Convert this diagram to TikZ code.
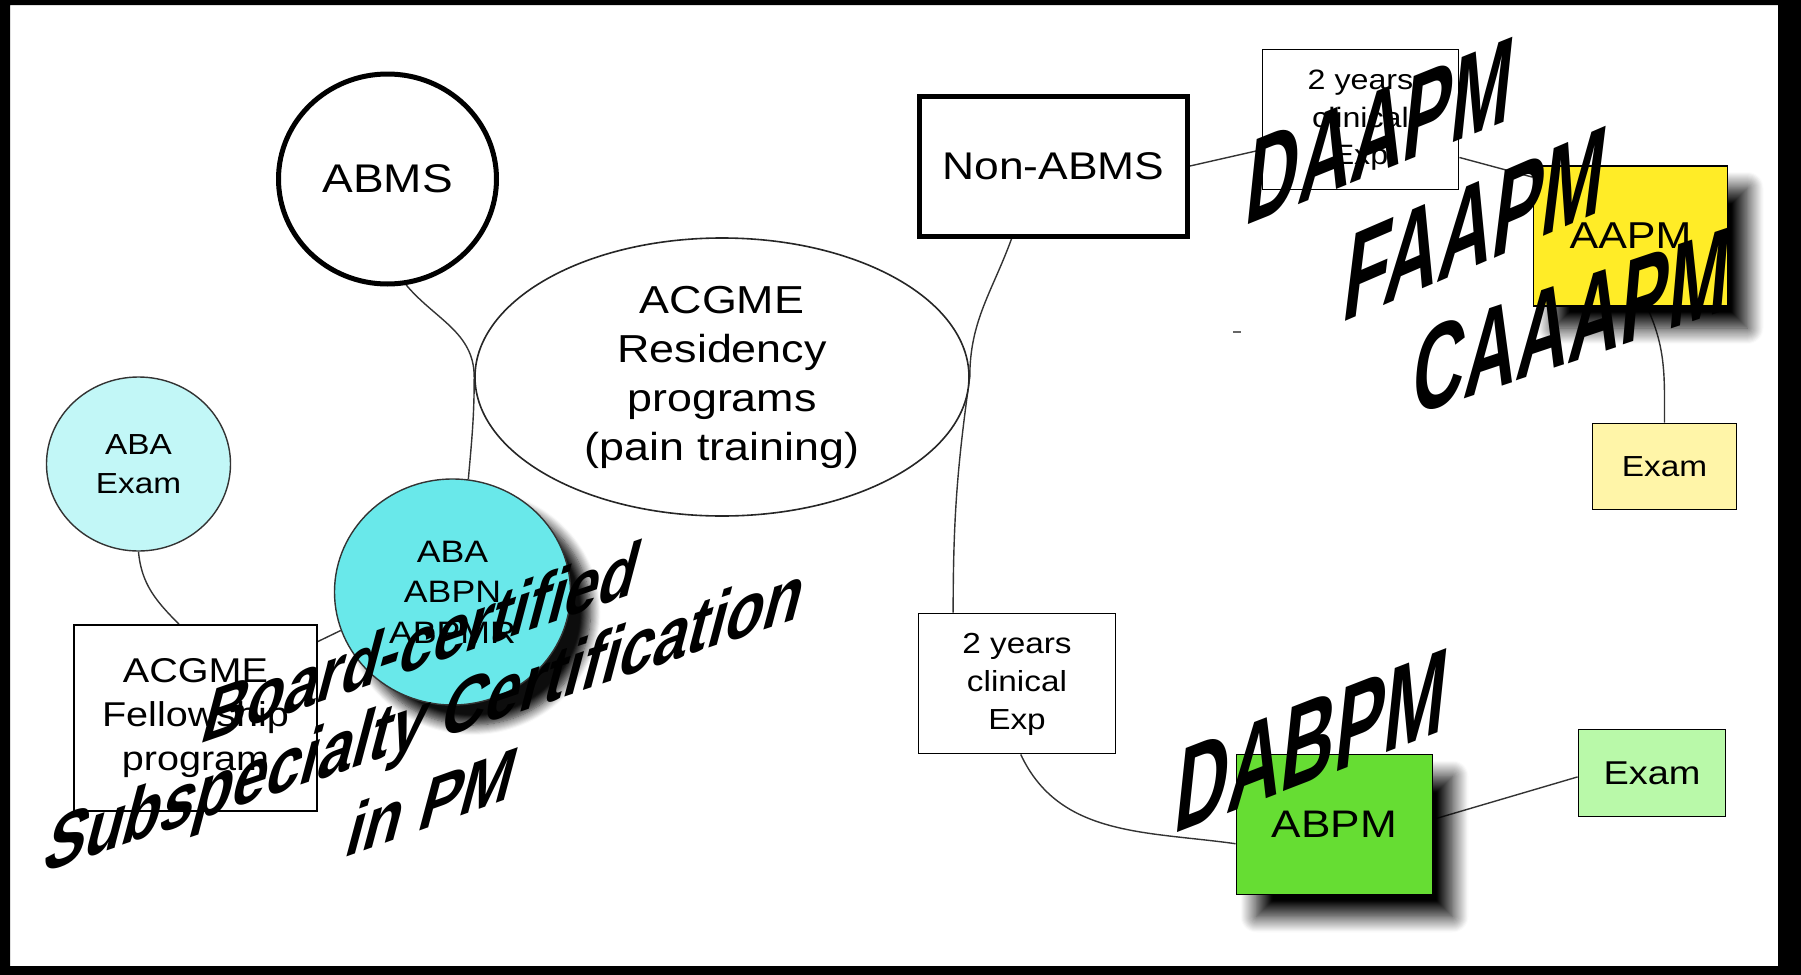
\documentclass[tikz,border=0pt]{standalone}
\usepackage{fontspec}
\setmainfont{Liberation Sans}
\newfontfamily\nf[FakeStretch=1.15]{Liberation Sans}
\usetikzlibrary{shapes.geometric,shadows.blur}
\definecolor{cyanA}{HTML}{C2F7F7}
\definecolor{cyanB}{HTML}{69E8EA}
\definecolor{yelA}{HTML}{FFEC27}
\definecolor{yelB}{HTML}{FFF5A8}
\definecolor{grnA}{HTML}{66DD33}
\definecolor{grnB}{HTML}{B9F9A9}
\newcommand\fs[2]{\nf\fontsize{#1}{#2}\selectfont}
\pgfdeclarelayer{bg}
\pgfsetlayers{bg,main}
\tikzset{
 conn/.style={draw=black!80, line width=0.7pt},
 boxn/.style={rectangle, draw=black, line width=0.9pt, inner sep=0pt, align=center},
 elln/.style={ellipse, inner sep=0pt, align=center},
 shad/.style={blur shadow={shadow xshift=10pt, shadow yshift=-11pt, shadow blur radius=8pt, shadow blur steps=16, shadow opacity=100}},
 cshad/.style={blur shadow={shadow xshift=10pt, shadow yshift=-10pt, shadow blur radius=5pt, shadow blur steps=10, shadow opacity=95}},
 wart/.style={font=\bfseries\fontsize{10}{12}\selectfont, inner sep=0pt, anchor=base},
}
\begin{document}
\begin{tikzpicture}[x=0.5pt,y=-0.5pt]
\useasboundingbox (0,0) rectangle (1801,975);
\fill[black, even odd rule] (0,0) rectangle (1801,975) (10,5) rectangle (1778,966);

\node[elln, draw=black, line width=2.5pt, minimum width=109pt, minimum height=105pt, font=\fs{20}{24}] (abms) at (387.5,179) {ABMS};
\node[elln, draw=black!85, line width=0.8pt, fill=white, minimum width=247pt, minimum height=139pt, font=\fs{19.5}{24.5}] (res) at (722,377) {ACGME\\Residency\\programs\\(pain training)};
\node[elln, draw=black!80, line width=0.7pt, fill=cyanA, minimum width=92pt, minimum height=87pt, font=\fs{14.5}{19.5}] (abaexam) at (138.5,464) {ABA\\Exam};
\node[elln, draw=black!80, line width=0.7pt, fill=cyanB, cshad, minimum width=118pt, minimum height=113pt, font=\fs{15.5}{20.3}] (aba3) at (452.5,592) {ABA\\ABPN\\ABPMR};
\node[boxn, fill=white, minimum width=121.5pt, minimum height=93pt, font=\fs{17.2}{21.8}] (fellow) at (195.5,718) {ACGME\\Fellowship\\program};
\node[boxn, line width=2.5pt, fill=white, minimum width=134pt, minimum height=70pt, font=\fs{19.3}{23}] (nonabms) at (1053.5,166) {Non-ABMS};
\node[boxn, fill=white, minimum width=98pt, minimum height=70pt, font=\fs{14}{18.8}] (twoA) at (1360.5,119.5) {\raisebox{-2.5pt}{\begin{tabular}{@{}c@{}}2 years\\clinical\\Exp\end{tabular}}};
\node[boxn, fill=yelA, shad, minimum width=97pt, minimum height=70pt, font=\fs{18.7}{22}] (aapm) at (1630.5,236) {AAPM};
\node[boxn, fill=yelB, minimum width=72pt, minimum height=43pt, font=\fs{14.5}{18}] (examY) at (1664.5,466.5) {Exam};
\node[boxn, fill=white, minimum width=98.5pt, minimum height=70pt, font=\fs{14.5}{19}] (twoB) at (1017,683.5) {\raisebox{-1.5pt}{\begin{tabular}{@{}c@{}}2 years\\clinical\\Exp\end{tabular}}};
\node[boxn, fill=grnA, shad, minimum width=98pt, minimum height=70pt, font=\fs{19.2}{22}] (abpm) at (1334.5,824.5) {ABPM};
\node[boxn, fill=grnB, minimum width=73.5pt, minimum height=43.5pt, font=\fs{16.5}{20}] (examG) at (1652,773) {Exam};

\begin{pgfonlayer}{bg}
\draw[conn] (abms.-80) to[out=-50,in=90] (res.west) to[out=-90,in=85] (aba3.82);
\draw[conn] (abaexam.south) to[out=-85,in=135] (fellow.100);
\draw[conn] (fellow.32) -- (aba3.199);
\draw[conn] (nonabms.240) to[out=-110,in=90] (res.east) to[out=-98,in=90] (twoB.132);
\draw[conn] (nonabms.east) -- (twoA.197);
\draw[conn] (twoA.-21) -- (aapm.149);
\draw[conn] (aapm.-77) to[out=-65,in=90] (examY.north);
\draw[conn] (twoB.-87) to[out=-65,in=172] (abpm.191);
\draw[conn] (abpm.3) -- (examG.183);
\end{pgfonlayer}
\draw[black!60, line width=0.6pt] (1233,332) -- (1241,332);

\node[wart, rotate=19, xslant=0.67, xscale=3.22, yscale=3.4] (wbc) at (415.5,669.5) {Board-certified};
\node[wart, rotate=18.6, xslant=0.66, xscale=3.25, yscale=3.49] (wsc) at (418.5,746) {Subspecialty Certification};
\node[wart, rotate=19.7, xslant=0.69, xscale=3.31, yscale=3.27] (wpm) at (425.5,828.5) {in PM};
\node[wart, rotate=21.84, xslant=0.527, xscale=3.9, yscale=5.5] (wdaapm) at (1376.5,173.5) {DAAPM};
\node[wart, rotate=23.33, xslant=0.585, xscale=4.04, yscale=5.55] (wfaapm) at (1470.5,268) {FAAPM};
\node[wart, rotate=18.55, xslant=0.436, xscale=3.79, yscale=5.63] (wcaaapm) at (1568.5,363.5) {CAAAPM};
\node[wart, rotate=21.15, xslant=0.513, xscale=3.95, yscale=5.47] (wdabpm) at (1307.5,782.5) {DABPM};
\end{tikzpicture}
\end{document}
